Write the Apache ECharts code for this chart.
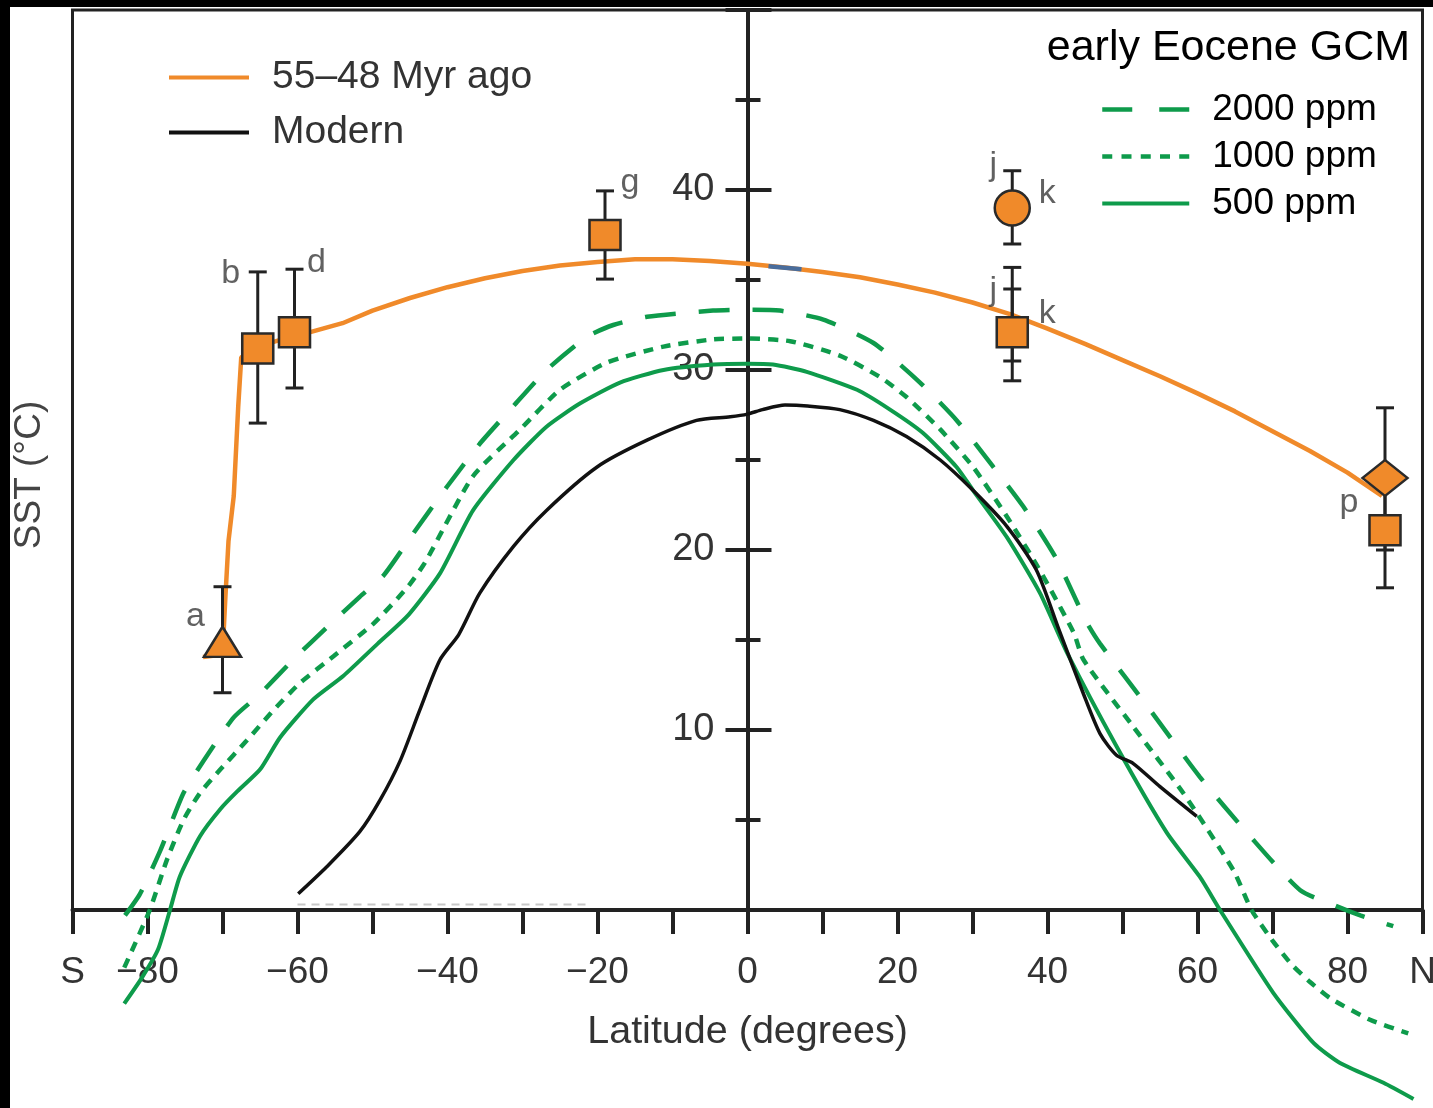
<!DOCTYPE html>
<html><head><meta charset="utf-8">
<script src="https://cdn.jsdelivr.net/npm/echarts@6/dist/echarts.min.js"></script>
<style>html,body{margin:0;padding:0;background:#000;overflow:hidden}#c{position:absolute;left:0;top:0;width:1433px;height:1108px;background:#fff}</style>
</head><body><div id="c"></div>
<script>
// ---------- data ----------
const eoceneLat = [-72.6,-70.0,-69.6,-69.2,-68.5,-67.9,-67.5,-65.3,-60.5,-58.3,-54,-50,-45,-40,-35,-30,-25,-20,-15,-10,-5,0,5,10,15,20,25,30,35,40,45,50,55,60,65,70,75,80,84.6];
const eoceneSST = [14.05,14.2,17.5,20.5,23.0,28.0,30.7,31.3,31.9,32.1,32.6,33.3,34.0,34.6,35.1,35.5,35.8,36.0,36.15,36.15,36.05,35.9,35.7,35.45,35.15,34.75,34.3,33.75,33.1,32.3,31.45,30.55,29.65,28.7,27.7,26.6,25.5,24.3,23.0];

const modernLat = [-59.9,-56.1,-51.7,-49,-46.3,-43.7,-41,-38.5,-35.7,-31.2,-26.8,-20.1,-13.4,-6.8,-2.3,0,2,5,8,12.3,16.8,21.2,25.7,30.1,34.6,38.5,41.5,44.8,47,49.2,51.4,55,59.9];
const modernSST = [0.9,2.4,4.35,6.1,8.3,11.1,13.9,15.3,17.6,20.2,22.2,24.6,26.1,27.2,27.4,27.55,27.8,28.05,28.0,27.8,27.2,26.3,25.0,23.3,21.3,18.9,15.6,12.0,9.8,8.6,8.15,6.85,5.2];

const ppm2000Lat = [-83,-81,-78.3,-75.2,-72.5,-68.5,-65,-60.6,-56.1,-51.7,-48.5,-44.6,-40.1,-35.7,-31.2,-26.8,-21.4,-17.9,-13.4,-4.6,0,4.3,10.1,16.8,23,27.9,32.8,36.8,41.2,45.2,47,53.7,60.3,67,73.7,78.6,81.7,86.1];
const ppm2000SST = [-0.3,0.9,3.3,6.5,8.3,10.7,12,13.9,15.7,17.4,18.6,20.9,23.5,25.9,28,30,31.85,32.5,32.96,33.3,33.35,33.3,32.8,31.5,29.3,27.2,24.6,22.4,19.5,16.0,14.8,11.1,7.4,4.1,1.1,0.2,-0.3,-0.9];

const ppm1000Lat = [-83.1,-79.7,-77.4,-75.2,-73,-70.3,-66.8,-63.2,-59.7,-55.2,-49.9,-45.4,-43,-36.6,-30.3,-25,-18.8,-11.2,-4.6,0,5.7,12.3,17.7,21.2,25.7,30.1,34.6,38.8,43.5,44.8,51.4,58.1,64.8,67.2,70,72.5,75,77.7,83,88.1];
const ppm1000SST = [-3.2,0,2.8,5,6.5,7.8,9.4,11.1,12.6,14.1,15.9,17.9,19.3,24.1,26.7,28.9,30.4,31.3,31.7,31.75,31.6,30.8,29.6,28.5,26.7,24.6,21.85,19.0,15.4,13.9,10.2,6.5,2.2,0,-1.7,-3.0,-4.0,-4.9,-6.1,-6.85];

const ppm500Lat = [-83.1,-80.8,-78.6,-77,-75.7,-73,-70.3,-68,-65,-62.3,-57.9,-53.9,-49.3,-45.2,-41,-36.6,-31.2,-26.8,-22.3,-17,-11.2,-4.6,0,3.4,7.9,14.6,19,23.4,27.9,30.1,34.6,39,42.6,49.2,55.9,60.3,63,70.1,75.5,79,84.8,88.8];
const ppm500SST = [-5.2,-3.8,-2.2,0,1.85,4.1,5.6,6.6,7.8,9.6,11.7,13.0,14.8,16.4,18.7,22.2,25,26.85,28.15,29.3,30,30.3,30.35,30.3,29.9,28.9,27.8,26.5,24.6,23.3,20.7,17.6,14.3,9.1,4.3,1.85,0,-4.6,-7.4,-8.5,-9.6,-10.5];

// proxy points (markers)
const proxyLat = [-70, -65.3, -60.4, -19, 35.3, 35.3, 85, 85];
const proxySST = [14.9, 31.2, 32.1, 37.5, 39.0, 32.1, 24.0, 21.1];
const proxyShape = ['triangle','rect','rect','rect','circle','rect','diamond','rect'];
// error bars
const errLat  = [-70, -65.3, -60.4, -19, 35.3, 35.3, 35.3, 85, 85];
const errLow  = [12.07, 27.05, 29.0, 35.05, 37.0, 29.4, 30.5, 20.0, 17.9];
const errHigh = [17.96, 35.45, 35.6, 39.95, 41.07, 35.7, 34.5, 27.9, 24.0];
// site letters and the proxy they belong to
const siteLabel = ['a','b','d','g','j','k','j','k','p'];
const siteOf    = [0, 1, 2, 3, 4, 4, 5, 5, 7];

// artifacts visible in the figure
const blueLat = [2.8, 7.2];
const blueSST = [35.77, 35.6];
const greyLat = [-60, -21];
const greySST = [0.3, 0.3];

// axis tick labels
const xTickLabels = {'-90':'S','-80':'\u221280','-60':'\u221260','-40':'\u221240','-20':'\u221220','0':'0','20':'20','40':'40','60':'60','80':'80','90':'N'};
const yTickLabels = {'10':'10','20':'20','30':'30','40':'40'};

// ---------- styles ----------
const FONT = 'Liberation Sans, Arial, Helvetica, sans-serif';
const ORANGE = '#F08A2A', GREEN = '#0E9B4B', INK = '#222', BLACKLINE = '#111';
const symbolSizes = {triangle:[37,30], rect:[31,30], circle:[35,35], diamond:[45,36]};
const labelOffsets = [[-27,-25],[-27,-75],[22,-70],[25,-52],[-19,-42],[35,-14],[-19,-42],[35,-19],[-36,-28]];

const zip = (a, b) => a.map((v, i) => [v, b[i]]);

const chart = echarts.init(document.getElementById('c'), null, {renderer:'canvas'});

const lineBase = {type:'line', symbol:'none', clip:false, xAxisIndex:0, yAxisIndex:0};
const hiddenIcon = {opacity:0, color:'transparent', borderWidth:0};

chart.setOption({
  animation:false,
  backgroundColor:'#fff',
  textStyle:{fontFamily:FONT},
  title:{text:'early Eocene GCM', right:18, top:22,
    textStyle:{fontSize:43, fontWeight:'normal', color:'#000', fontFamily:FONT}},
  legend:[
    {data:[{name:'55\u201348 Myr ago'},{name:'Modern'}], orient:'vertical', left:167, top:58, padding:0,
     itemWidth:80, itemHeight:40, itemGap:16,
     itemStyle:hiddenIcon, lineStyle:{width:4},
     textStyle:{fontSize:39, color:'#333', fontFamily:FONT, padding:[0,0,0,18]}},
    {data:[{name:'2000 ppm', lineStyle:{width:4.5, type:[30,27]}},
           {name:'1000 ppm', lineStyle:{width:4.5, type:[10,9.25]}},
           {name:'500 ppm', lineStyle:{width:4}}],
     orient:'vertical', left:1100, top:91, padding:0,
     itemWidth:87, itemHeight:40, itemGap:10,
     itemStyle:hiddenIcon, lineStyle:{width:4.5},
     textStyle:{fontSize:37, color:'#000', fontFamily:FONT, padding:[0,0,0,18]}}
  ],
  graphic:[
    {type:'rect', left:0, top:0, shape:{width:10, height:1108}, style:{fill:'#000'}, z:100, silent:true},
    {type:'rect', left:0, top:0, shape:{width:1433, height:7}, style:{fill:'#000'}, z:100, silent:true}
  ],
  grid:{left:72.5, right:10.5, top:10, bottom:198, containLabel:false, outerBoundsMode:'none',
    show:true, borderColor:INK, borderWidth:3, backgroundColor:'transparent'},
  xAxis:{type:'value', min:-90, max:90, interval:10,
    name:'Latitude (degrees)', nameLocation:'middle', nameGap:102,
    nameTextStyle:{fontSize:39.5, color:'#333', fontFamily:FONT},
    axisLine:{onZero:false, lineStyle:{color:INK, width:4}},
    axisTick:{length:24, lineStyle:{color:INK, width:4}},
    splitLine:{show:false},
    axisLabel:{margin:44, fontSize:37, color:'#333', fontFamily:FONT,
      formatter:v => xTickLabels[String(v)] || ''}},
  yAxis:[
    {type:'value', min:0, max:50, interval:10, position:'left',
     name:'SST (\u00B0C)', nameLocation:'middle', nameGap:24,
     nameTextStyle:{fontSize:37, color:'#444', fontFamily:FONT, padding:[0,30,0,0]},
     axisLine:{onZero:true, lineStyle:{color:INK, width:4}},
     axisTick:{length:22, lineStyle:{color:INK, width:4}},
     minorTick:{show:true, splitNumber:2, length:12, lineStyle:{color:INK, width:4}},
     splitLine:{show:false}, minorSplitLine:{show:false},
     axisLabel:{margin:-642, fontSize:38, color:'#333', fontFamily:FONT,
       formatter:v => yTickLabels[String(v)] || ''}},
    {type:'value', min:0, max:50, interval:10, position:'right',
     axisLine:{show:false, onZero:true, onZeroAxisIndex:0},
     axisTick:{length:24, lineStyle:{color:INK, width:4}},
     minorTick:{show:true, splitNumber:2, length:13, lineStyle:{color:INK, width:4}},
     splitLine:{show:false}, axisLabel:{show:false}}
  ],
  series:[
    Object.assign({}, lineBase, {name:'grey', data:zip(greyLat, greySST), z:1, color:'#c8c8c8',
      lineStyle:{color:'#c8c8c8', width:2, type:[8,6]}, silent:true}),
    Object.assign({}, lineBase, {name:'2000 ppm', data:zip(ppm2000Lat, ppm2000SST), z:2, color:GREEN, smooth:0.2,
      lineStyle:{color:GREEN, width:4.5, type:[31,23]}}),
    Object.assign({}, lineBase, {name:'1000 ppm', data:zip(ppm1000Lat, ppm1000SST), z:2, color:GREEN, smooth:0.2,
      lineStyle:{color:GREEN, width:4.5, type:[10,8]}}),
    Object.assign({}, lineBase, {name:'500 ppm', data:zip(ppm500Lat, ppm500SST), z:2, color:GREEN, smooth:0.2,
      lineStyle:{color:GREEN, width:4}}),
    Object.assign({}, lineBase, {name:'Modern', data:zip(modernLat, modernSST), z:3, color:BLACKLINE, smooth:0.25,
      lineStyle:{color:BLACKLINE, width:3.5}}),
    Object.assign({}, lineBase, {name:'55\u201348 Myr ago', data:zip(eoceneLat, eoceneSST), z:4, color:ORANGE,
      lineStyle:{color:ORANGE, width:4.5}}),
    Object.assign({}, lineBase, {name:'blue', data:zip(blueLat, blueSST), z:4, color:'#4a6d9c',
      lineStyle:{color:'#4a6d9c', width:4.5}}),
    {type:'custom', name:'errors', z:5, clip:false,
     data:errLat.map((v,i)=>[v, errLow[i], errHigh[i]]),
     encode:{x:0, y:[1,2]},
     renderItem:(params, api) => {
       const x = api.value(0);
       const p1 = api.coord([x, api.value(1)]), p2 = api.coord([x, api.value(2)]);
       const w = 9, st = {stroke:INK, lineWidth:3, fill:null};
       return {type:'group', children:[
         {type:'line', shape:{x1:p1[0], y1:p1[1], x2:p2[0], y2:p2[1]}, style:st},
         {type:'line', shape:{x1:p1[0]-w, y1:p1[1], x2:p1[0]+w, y2:p1[1]}, style:st},
         {type:'line', shape:{x1:p2[0]-w, y1:p2[1], x2:p2[0]+w, y2:p2[1]}, style:st}
       ]};
     }},
    {type:'scatter', name:'proxies', z:6, clip:false,
     data:proxyLat.map((v,i)=>({value:[v, proxySST[i]], symbol:proxyShape[i], symbolSize:symbolSizes[proxyShape[i]]})),
     itemStyle:{color:ORANGE, borderColor:'#2a2a2a', borderWidth:2.5, opacity:1}},
    {type:'scatter', name:'sites', z:7, clip:false, symbolSize:0, silent:true,
     data:siteLabel.map((t,i)=>({value:[proxyLat[siteOf[i]], proxySST[siteOf[i]]],
       label:{show:true, formatter:t, offset:labelOffsets[i], position:'inside',
         fontSize:34, color:'#3a3a3a', fontFamily:FONT}}))}
  ]
});
</script></body></html>
